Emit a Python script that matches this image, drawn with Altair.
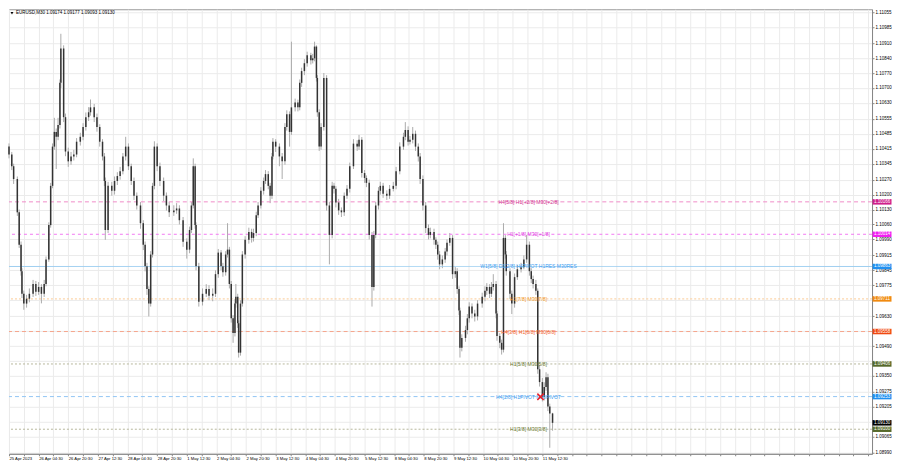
import json
import altair as alt
import pandas as pd

TITLE = "EURUSD,M30  1.09174 1.09177 1.09093 1.09130"

first_open = 1.10425
bars = [0, 3, 5, 9, 11, 13, 14, 16, 19, 22,
        26, 29, 32, 35, 38, 40, 43, 45, 47, 49,
        51, 53, 55, 56, 59, 61, 64, 67, 70, 73,
        77, 80, 83, 86, 88, 92, 95, 98, 101, 103,
        104, 107, 111, 114, 117, 120, 123, 126, 129, 132,
        135, 138, 142, 145, 147, 149, 151, 153, 155, 157,
        160, 163, 167, 170, 173, 178, 181, 184, 188, 192,
        195, 197, 199, 201, 202, 205, 209, 213, 216, 220,
        223, 226, 229, 231, 234, 236, 238, 240, 242, 244,
        245, 247, 248, 250, 252, 255, 259, 262, 264, 267,
        269, 272, 275, 277, 280, 282, 284, 285, 288, 292,
        295, 298, 300, 303, 305, 309, 312, 314, 316, 319,
        322, 326, 328, 330, 332, 333, 335, 337, 340, 343,
        346, 349, 351, 353, 356, 359, 362, 365, 368, 372,
        376, 378, 381, 384, 386, 389, 392, 394, 396, 399,
        401, 404, 408, 411, 415, 418, 422, 426, 428, 431,
        433, 436, 439, 442, 444, 447, 450, 453, 455, 459,
        461, 463, 465, 468, 471, 473, 476, 479, 482, 484,
        486, 487, 489, 493, 495, 497, 500, 503, 506, 511,
        514, 516, 519, 521, 523, 526, 527, 530, 532, 534,
        536, 537, 541, 543, 546, 549, 553, 556, 559, 562,
        564, 566, 569, 571, 573, 576, 578, 580, 582, 584, 587]

closes = [1.10388, 1.10333, 1.10273, 1.10117, 1.09965, 1.09841, 1.09735, 1.09689, 1.09712, 1.09735,
          1.09781, 1.09744, 1.09767, 1.09735, 1.09781, 1.09896, 1.10057, 1.10241, 1.10425, 1.10494,
          1.10471, 1.10526, 1.10724, 1.10885, 1.10563, 1.10402, 1.10356, 1.10379, 1.10388, 1.10448,
          1.10471, 1.10517, 1.10563, 1.10586, 1.10609, 1.10563, 1.10517, 1.10448, 1.10379, 1.10264,
          1.10034, 1.10241, 1.10218, 1.10264, 1.10287, 1.10310, 1.10379, 1.10425, 1.10333, 1.10264,
          1.10195, 1.10149, 1.10066, 1.09965, 1.09864, 1.09758, 1.09689, 1.09919, 1.10241, 1.10425,
          1.10333, 1.10264, 1.10195, 1.10149, 1.10117, 1.10126, 1.10135, 1.10080, 1.09979, 1.09942,
          1.10034, 1.10149, 1.10333, 1.10057, 1.09864, 1.09698, 1.09735, 1.09758, 1.09726, 1.09735,
          1.09827, 1.09928, 1.09864, 1.09836, 1.09919, 1.09942, 1.09781, 1.09620, 1.09551, 1.09689,
          1.09721, 1.09597, 1.09459, 1.09689, 1.09919, 1.09988, 1.10025, 1.09997, 1.10020, 1.10103,
          1.10149, 1.10218, 1.10264, 1.10296, 1.10241, 1.10195, 1.10379, 1.10448, 1.10425, 1.10379,
          1.10356, 1.10517, 1.10577, 1.10494, 1.10609, 1.10632, 1.10609, 1.10724, 1.10779, 1.10816,
          1.10853, 1.10830, 1.10839, 1.10894, 1.10747, 1.10586, 1.10425, 1.10517, 1.10747, 1.10149,
          1.10011, 1.10241, 1.10227, 1.10163, 1.10126, 1.10117, 1.10195, 1.10227, 1.10333, 1.10439,
          1.10425, 1.10457, 1.10301, 1.10278, 1.10255, 1.10011, 1.09767, 1.10011, 1.10149, 1.10218,
          1.10241, 1.10204, 1.10195, 1.10227, 1.10241, 1.10310, 1.10425, 1.10471, 1.10503, 1.10448,
          1.10457, 1.10485, 1.10425, 1.10379, 1.10273, 1.10149, 1.10043, 1.10011, 1.10025, 1.09988,
          1.09965, 1.09919, 1.09873, 1.09896, 1.09933, 1.09974, 1.09997, 1.09827, 1.09841, 1.09758,
          1.09657, 1.09482, 1.09528, 1.09565, 1.09620, 1.09675, 1.09643, 1.09629, 1.09689, 1.09721,
          1.09749, 1.09767, 1.09735, 1.09767, 1.09781, 1.09643, 1.09537, 1.09505, 1.09473, 1.09997,
          1.09919, 1.09841, 1.09735, 1.09689, 1.09813, 1.09850, 1.09859, 1.09896, 1.09965, 1.09841,
          1.09804, 1.09781, 1.09749, 1.09381, 1.09321, 1.09252, 1.09298, 1.09344, 1.09206, 1.09174, 1.09130]

highs = [1.10440, 1.10400, 1.10345, 1.10285, 1.10130, 1.09980, 1.09855, 1.09750, 1.09730, 1.09760,
         1.09800, 1.09795, 1.09790, 1.09780, 1.09800, 1.09910, 1.10070, 1.10255, 1.10440, 1.10560,
         1.10510, 1.10560, 1.10740, 1.10954, 1.10900, 1.10580, 1.10420, 1.10400, 1.10410, 1.10465,
         1.10490, 1.10535, 1.10585, 1.10610, 1.10646, 1.10625, 1.10580, 1.10530, 1.10460, 1.10395,
         1.10280, 1.10260, 1.10260, 1.10285, 1.10305, 1.10330, 1.10395, 1.10471, 1.10440, 1.10345,
         1.10280, 1.10210, 1.10165, 1.10080, 1.09980, 1.09880, 1.09770, 1.09935, 1.10255, 1.10450,
         1.10440, 1.10350, 1.10280, 1.10210, 1.10165, 1.10150, 1.10160, 1.10150, 1.10095, 1.09995,
         1.10050, 1.10165, 1.10370, 1.10345, 1.10070, 1.09880, 1.09760, 1.09780, 1.09775, 1.09760,
         1.09845, 1.09945, 1.09940, 1.09880, 1.09935, 1.10066, 1.09955, 1.09795, 1.09635, 1.09710,
         1.09781, 1.09735, 1.09610, 1.09705, 1.09935, 1.10005, 1.10045, 1.10040, 1.10040, 1.10120,
         1.10165, 1.10235, 1.10280, 1.10315, 1.10310, 1.10255, 1.10395, 1.10465, 1.10460, 1.10440,
         1.10395, 1.10535, 1.10595, 1.10590, 1.10917, 1.10650, 1.10645, 1.10740, 1.10795, 1.10835,
         1.10870, 1.10865, 1.10860, 1.10917, 1.10900, 1.10760, 1.10600, 1.10535, 1.10770, 1.10760,
         1.10165, 1.10260, 1.10255, 1.10240, 1.10180, 1.10140, 1.10210, 1.10245, 1.10350, 1.10460,
         1.10455, 1.10480, 1.10470, 1.10315, 1.10290, 1.10270, 1.10025, 1.10030, 1.10165, 1.10235,
         1.10260, 1.10255, 1.10220, 1.10245, 1.10260, 1.10330, 1.10445, 1.10490, 1.10540, 1.10520,
         1.10475, 1.10517, 1.10500, 1.10440, 1.10395, 1.10290, 1.10165, 1.10060, 1.10045, 1.10040,
         1.10000, 1.09980, 1.09935, 1.09915, 1.09950, 1.09990, 1.10020, 1.10010, 1.09860, 1.09855,
         1.09770, 1.09670, 1.09545, 1.09585, 1.09640, 1.09695, 1.09690, 1.09660, 1.09705, 1.09740,
         1.09770, 1.09785, 1.09780, 1.09790, 1.09827, 1.09795, 1.09655, 1.09550, 1.09520, 1.10066,
         1.10010, 1.09935, 1.09855, 1.09750, 1.09830, 1.09870, 1.09880, 1.09915, 1.10011, 1.09980,
         1.09855, 1.09820, 1.09800, 1.09760, 1.09400, 1.09340, 1.09320, 1.09367, 1.09360, 1.09220, 1.09177]

lows = [1.10370, 1.10315, 1.10250, 1.10100, 1.09950, 1.09820, 1.09715, 1.09660, 1.09670, 1.09695,
        1.09720, 1.09725, 1.09730, 1.09690, 1.09720, 1.09770, 1.09885, 1.10045, 1.10230, 1.10410,
        1.10320, 1.10455, 1.10510, 1.10700, 1.10540, 1.10380, 1.10330, 1.10340, 1.10360, 1.10375,
        1.10430, 1.10455, 1.10500, 1.10545, 1.10570, 1.10540, 1.10495, 1.10425, 1.10360, 1.10240,
        1.09988, 1.10020, 1.10195, 1.10200, 1.10245, 1.10270, 1.10295, 1.10360, 1.10315, 1.10245,
        1.10175, 1.10130, 1.10040, 1.09940, 1.09840, 1.09730, 1.09629, 1.09675, 1.09905, 1.10225,
        1.10310, 1.10240, 1.10170, 1.10125, 1.10095, 1.10100, 1.10110, 1.10060, 1.09955, 1.09900,
        1.09925, 1.10020, 1.10135, 1.10040, 1.09845, 1.09675, 1.09680, 1.09720, 1.09705, 1.09700,
        1.09720, 1.09810, 1.09845, 1.09815, 1.09820, 1.09905, 1.09760, 1.09600, 1.09505, 1.09535,
        1.09670, 1.09575, 1.09436, 1.09445, 1.09675, 1.09900, 1.09970, 1.09975, 1.09980, 1.10005,
        1.10090, 1.10135, 1.10200, 1.10250, 1.10225, 1.10160, 1.10180, 1.10365, 1.10400, 1.10333,
        1.10273, 1.10340, 1.10500, 1.10425, 1.10480, 1.10590, 1.10590, 1.10595, 1.10705, 1.10760,
        1.10800, 1.10810, 1.10815, 1.10825, 1.10730, 1.10565, 1.10405, 1.10410, 1.10500, 1.10125,
        1.09873, 1.09995, 1.10205, 1.10140, 1.10105, 1.10095, 1.10100, 1.10180, 1.10210, 1.10320,
        1.10405, 1.10410, 1.10280, 1.10255, 1.10235, 1.09990, 1.09675, 1.09750, 1.09995, 1.10130,
        1.10200, 1.10185, 1.10175, 1.10180, 1.10215, 1.10225, 1.10295, 1.10410, 1.10455, 1.10430,
        1.10435, 1.10440, 1.10405, 1.10355, 1.10250, 1.10125, 1.10020, 1.09990, 1.09995, 1.09965,
        1.09945, 1.09895, 1.09850, 1.09855, 1.09880, 1.09915, 1.09960, 1.09805, 1.09810, 1.09735,
        1.09635, 1.09436, 1.09465, 1.09510, 1.09545, 1.09600, 1.09620, 1.09605, 1.09610, 1.09670,
        1.09700, 1.09730, 1.09715, 1.09720, 1.09750, 1.09620, 1.09515, 1.09480, 1.09450, 1.09460,
        1.09900, 1.09820, 1.09710, 1.09640, 1.09670, 1.09800, 1.09835, 1.09850, 1.09880, 1.09820,
        1.09785, 1.09760, 1.09730, 1.09360, 1.09300, 1.09230, 1.09235, 1.09280, 1.09185, 1.09013, 1.09093]

time_labels = ["25 Apr 2023", "26 Apr 04:30", "26 Apr 20:30", "27 Apr 12:30", "28 Apr 04:30",
               "28 Apr 20:30", "1 May 12:30", "2 May 04:30", "2 May 20:30", "3 May 12:30",
               "4 May 04:30", "4 May 20:30", "5 May 12:30", "8 May 04:30", "8 May 20:30",
               "9 May 12:30", "10 May 04:30", "10 May 20:30", "11 May 12:30"]

price_ticks = [1.11055, 1.10985, 1.10910, 1.10840, 1.10770, 1.10700, 1.10630, 1.10555, 1.10485,
               1.10415, 1.10345, 1.10270, 1.10200, 1.10130, 1.10060, 1.09990, 1.09915, 1.09845,
               1.09775, 1.09705, 1.09630, 1.09560, 1.09490, 1.09420, 1.09350, 1.09275, 1.09205,
               1.09135, 1.09065, 1.08990]
# tick labels that sit under a coloured price box in the reference
hidden_ticks = ["1.09705", "1.09560", "1.09420", "1.09135"]

level_prices = [1.10166, 1.10014, 1.09863, 1.09711, 1.09558, 1.09406, 1.09253, 1.09100]
level_names = ["H4[5/8] H1[+2/8] M30[+2/8]", "H1[+1/8] M30[+1/8]",
               "W1[5/8] D1[2/8] H4PIVOT H1RES M30RES", "H1[7/8] M30[7/8]",
               "H4[3/8] H1[6/8] M30[6/8]", "H1[5/8] M30[5/8]",
               "H4[2/8] H1PIVOT M30PIVOT", "H1[3/8] M30[3/8]"]
line_colors = ["#f08cc8", "#f27af2", "#9ccdf0", "#fccb95", "#f5a58c", "#b7b79c", "#93c6f4", "#b7b79c"]
line_dashes = [[4, 3], [3, 3], [1, 0], [2, 2], [4, 3], [2, 2], [4, 3], [2, 2]]
text_colors = ["#d2308e", "#e23ee2", "#3c9cf0", "#f29a2a", "#f25c2a", "#6b7a32", "#3c9cf0", "#6b7a32"]
box_colors = ["#cf1f8a", "#f21ff2", "#2090f0", "#f08a10", "#f04810", "#56692a", "#2090f0", "#000000", "#56692a"]
box_prices = [1.10166, 1.10014, 1.09863, 1.09711, 1.09558, 1.09406, 1.09253, 1.09130, 1.09100]

signal_bar = [574]
signal_price = [1.09252]

# ---------------------------------------------------------------------------
W, H = 864, 445
FONT = "Liberation Sans"
LABEL_BAR = 561

opens = [first_open] + closes[:-1]
candles = pd.DataFrame({"bar": bars, "open": opens, "close": closes, "high": highs, "low": lows})
levels = pd.DataFrame({"price": level_prices, "name": level_names, "tcolor": text_colors,
                       "lbar": [LABEL_BAR] * len(level_prices)})
boxes = pd.DataFrame({"price": box_prices, "bcolor": box_colors,
                      "txt": [f"{p:.5f}" for p in box_prices]})
signal = pd.DataFrame({"bar": signal_bar, "price": signal_price})

xs = alt.Scale(domain=[0, 932], nice=False, zero=False)
ys = alt.Scale(domain=[1.08985, 1.11069], nice=False, zero=False)

x_label_expr = ("datum.value % 32 === 0 && datum.value / 32 < {n} ? {arr}[datum.value / 32] : ''"
                .format(n=len(time_labels), arr=json.dumps(time_labels)))
y_label_expr = "indexof({arr}, format(datum.value, '.5f')) >= 0 ? '' : format(datum.value, '.5f')".format(
    arr=json.dumps(hidden_ticks))

x_axis = alt.Axis(values=list(range(0, 933, 16)), labelExpr=x_label_expr, title=None,
                  grid=True, gridColor="#ebebeb", gridWidth=1,
                  labelFont=FONT, labelFontSize=4.2, labelColor="#000", labelAlign="left",
                  labelPadding=1, labelOverlap=False, labelFlush=False, labelBound=False,
                  tickSize=2, tickColor="#888", domainColor="#888")
y_axis = alt.Axis(values=price_ticks, labelExpr=y_label_expr, orient="right", title=None,
                  grid=True, gridColor="#ebebeb", gridWidth=1,
                  labelFont=FONT, labelFontSize=4.5, labelColor="#000", labelAlign="left",
                  labelBaseline="middle", labelPadding=1, labelOverlap=False, labelFlush=False,
                  tickSize=2, tickColor="#888", domainColor="#888")


def X(field):
    return alt.X(field, scale=xs, axis=x_axis)


def Y(field):
    return alt.Y(field, scale=ys, axis=y_axis)


wicks = alt.Chart(candles).mark_rule(color="#ababab", strokeWidth=1).encode(
    x=X("bar:Q"), y=Y("low:Q"), y2="high:Q")
bodies = alt.Chart(candles).mark_rule(color="#333333", strokeWidth=1.5).encode(
    x=X("bar:Q"), y=Y("open:Q"), y2="close:Q")

level_layers = []
for p, c, d in zip(level_prices, line_colors, line_dashes):
    lr = alt.Chart(pd.DataFrame({"price": [p]})).mark_rule(
        color=c, strokeWidth=1, strokeDash=d).encode(y=Y("price:Q"))
    level_layers.append(lr)

level_text = alt.Chart(levels).mark_text(font=FONT, fontSize=5, align="center",
                                         baseline="middle").encode(
    x=X("lbar:Q"), y=Y("price:Q"), text="name:N",
    color=alt.Color("tcolor:N", scale=None))

sig = alt.Chart(signal).mark_point(shape="M-1,-1L1,1M-1,1L1,-1", filled=False, color="#e8202a",
                                   strokeWidth=1.6, size=40, opacity=1).encode(
    x=X("bar:Q"), y=Y("price:Q"))

box_rects = alt.Chart(boxes).mark_tick(orient="horizontal", size=19, thickness=5.5,
                                       opacity=1).encode(
    x=alt.value(W + 10), y=Y("price:Q"), color=alt.Color("bcolor:N", scale=None))
box_text = alt.Chart(boxes).mark_text(font=FONT, fontSize=4.5, align="left", baseline="middle",
                                      color="#ffffff").encode(
    x=alt.value(W + 2), y=Y("price:Q"), text="txt:N")

title_df = pd.DataFrame({"t": [TITLE]})
title_text = alt.Chart(title_df).mark_text(font=FONT, fontSize=4.5, align="left",
                                           baseline="middle", color="#000").encode(
    x=alt.value(7), y=alt.value(4), text="t:N")
title_tri = alt.Chart(title_df).mark_point(shape="triangle-down", filled=True, color="#000",
                                           size=8, opacity=1).encode(
    x=alt.value(3), y=alt.value(4))

chart = alt.layer(
    wicks, *level_layers, bodies, level_text, sig, box_rects, box_text, title_text, title_tri
).properties(width=W, height=H, padding=0, background="#ffffff").configure_view(
    stroke="#9a9a9a", strokeWidth=1
)

chart.save("out.html", embed_options={"renderer": "svg", "actions": False})
